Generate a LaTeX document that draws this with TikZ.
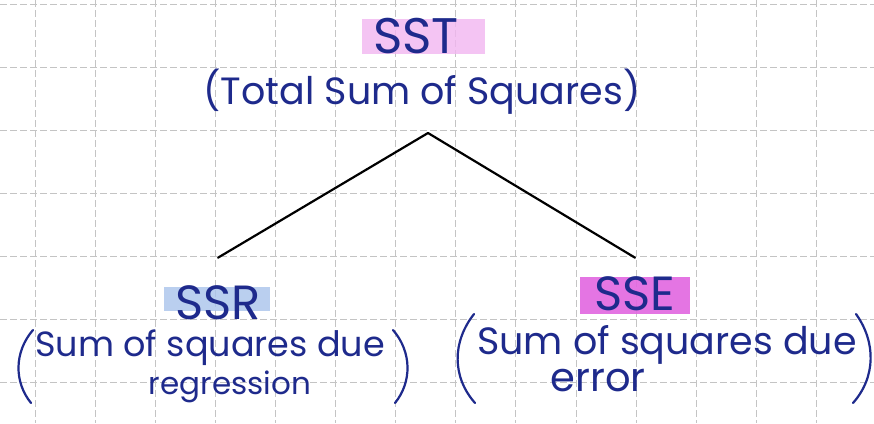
\documentclass[tikz,border=0pt]{standalone}
\usepackage{fontspec}
\setmainfont{Poppins}
\usetikzlibrary{positioning}
\definecolor{ink}{HTML}{1E2A8C}
\definecolor{gridgray}{HTML}{C4C4C4}
\definecolor{hlpink}{HTML}{F2B6F0}
\definecolor{hlblue}{HTML}{A9C3EC}
\definecolor{hlmag}{HTML}{E266E0}
\tikzset{
  hand/.style={text=ink, inner sep=0pt, align=center},
  paren/.style={draw=ink, line width=2.2pt, line cap=round},
  branch/.style={draw=black, line width=2.2pt, line cap=round},
}
\begin{document}
\begin{tikzpicture}[x=1pt, y=-1pt]
    % paper and grid
    \useasboundingbox (0,0) rectangle (874,423);
    \fill[white] (0,0) rectangle (874,423);
    \foreach \i in {0,...,13}
        \draw[gridgray, line width=0.8pt, dash pattern=on 7pt off 3pt] ({35+60.1*\i},0) -- ({35+60.1*\i},423);
    \foreach \j in {0,...,6}
        \draw[gridgray, line width=0.8pt, dash pattern=on 7pt off 3pt] (0,{4+63*\j}) -- (874,{4+63*\j});

    % highlights
    \fill[hlpink, opacity=0.8] (362,19) rectangle (485,54);
    \fill[hlblue, opacity=0.8] (164,287) rectangle (270,311);
    \fill[hlmag, opacity=0.9] (580,277) rectangle (690,314);

    % top
    \node[hand, font=\fontsize{50}{54}\selectfont] (sst) at (416,36) {SST};
    \node[hand, font=\fontsize{38}{42}\selectfont] (sstdesc) at (422,92) {(Total Sum of Squares)};
    \coordinate (apex) at (428,133);

    % left
    \node[hand, font=\fontsize{48}{52}\selectfont] (ssr) at (218,303) {SSR};
    \node[hand, font=\fontsize{35}{39}\selectfont] (ssrline) at (210,348) {Sum of squares due};
    \node[hand, font=\fontsize{31}{35}\selectfont] (ssrreg) at (230,387) {regression};
    \draw[paren] (33,330) .. controls (14,352) and (14,382) .. (31,403);
    \draw[paren] (393,330) .. controls (412,352) and (412,382) .. (395,403);

    % right
    \node[hand, font=\fontsize{48}{52}\selectfont] (sse) at (635,294) {SSE};
    \node[hand, font=\fontsize{38}{42}\selectfont] (sseline) at (667,345) {Sum of squares due};
    \node[hand, font=\fontsize{40}{44}\selectfont] (sseerr) at (598,381) {error};
    \draw[paren] (474,314) .. controls (452,342) and (452,377) .. (475,403);
    \draw[paren] (856,314) .. controls (876,342) and (876,377) .. (853,403);

    % branches
    \draw[branch] (apex) -- ([yshift=28pt]ssr.north);
    \draw[branch] (apex) -- ([yshift=19pt]sse.north);
\end{tikzpicture}
\end{document}
